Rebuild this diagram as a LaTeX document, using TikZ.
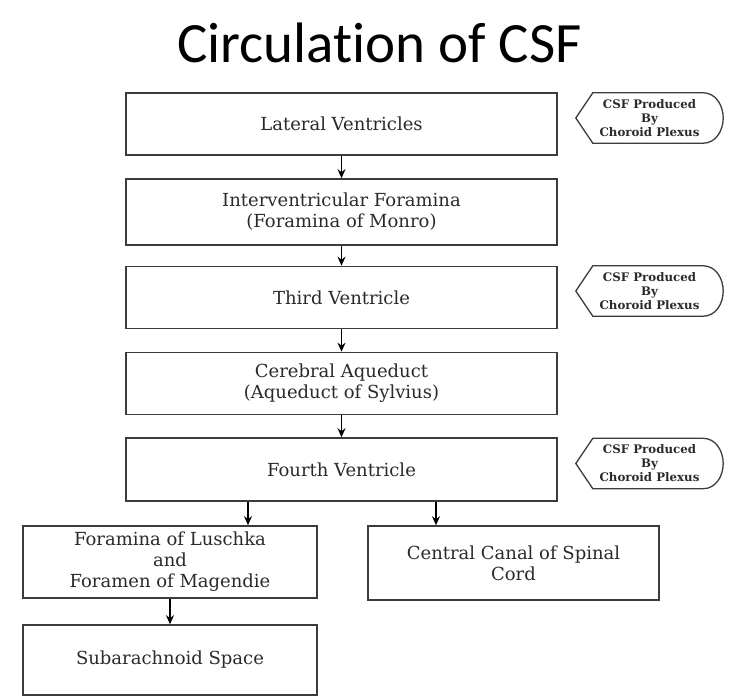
\documentclass[tikz,border=0pt]{standalone}
\usepackage{fontspec}
\setmainfont{DejaVu Serif}
\newfontfamily\titlefont[Ligatures=NoCommon]{Carlito}
\usetikzlibrary{arrows.meta}
\tikzset{>={Stealth[length=9pt,width=8pt]}}
\definecolor{boxline}{HTML}{3C3C3C}
\definecolor{boxtext}{HTML}{2A2A2A}

\begin{document}
\begin{tikzpicture}[x=1pt,y=-1pt,
    stage/.style={draw=boxline, line width=1.6pt, minimum width=431pt, minimum height=62pt,
        align=center, inner sep=0pt, text=boxtext, font=\fontsize{18}{21}\selectfont},
    branch/.style={stage, minimum width=294pt, minimum height=72pt},
    note/.style={minimum width=147pt, minimum height=50pt, inner sep=0pt, align=center,
        text=boxtext, font=\fontsize{11.8}{14}\selectfont\bfseries},
    flow/.style={->, line width=1.3pt, draw=black}]
    \useasboundingbox (0,0) rectangle (742,696);
    \node[anchor=base, font=\titlefont\fontsize{57}{68}\selectfont] (title) at (379.5,62) {Circulation of CSF};
    % main chain
    \node[stage] (lateral) at (341.5,124) {Lateral Ventricles};
    \node[stage, minimum height=66pt] (monro) at (341.5,212) {Interventricular Foramina\\(Foramina of Monro)};
    \node[stage] (third) at (341.5,297.5) {Third Ventricle};
    \node[stage] (sylvius) at (341.5,383.5) {Cerebral Aqueduct\\(Aqueduct of Sylvius)};
    \node[stage, minimum height=63pt] (fourth) at (341.5,469.5) {Fourth Ventricle};
    % outlets
    \node[branch] (luschka) at (170,562) {Foramina of Luschka\\and\\Foramen of Magendie};
    \node[branch, minimum width=291pt, minimum height=74pt] (canal) at (513.5,563) {Central Canal of Spinal\\Cord};
    \node[branch, minimum height=70pt] (subarach) at (170,660) {Subarachnoid Space};
    % choroid plexus notes
    \node[note] (plexusa) at (649.5,118) {CSF Produced\\By\\Choroid Plexus};
    \node[note] (plexusb) at (649.5,291) {CSF Produced\\By\\Choroid Plexus};
    \node[note] (plexusc) at (649.5,463.5) {CSF Produced\\By\\Choroid Plexus};
    \foreach \n in {plexusa,plexusb,plexusc}
        \draw[boxline, line width=1.3pt] (\n.west) -- ([xshift=17pt]\n.north west)
            -- ([xshift=-20pt]\n.north east) to[out=0,in=90] (\n.east)
            to[out=-90,in=0] ([xshift=-20pt]\n.south east) -- ([xshift=17pt]\n.south west) -- cycle;
    % arrows
    \foreach \a/\b in {lateral/monro, monro/third, third/sylvius, sylvius/fourth, luschka/subarach}
        \draw[flow] (\a) -- (\b);
    \coordinate (ltap) at (248,0);
    \coordinate (rtap) at (436,0);
    \draw[flow] (fourth.south -| ltap) -- (luschka.north -| ltap);
    \draw[flow] (fourth.south -| rtap) -- (canal.north -| rtap);
\end{tikzpicture}
\end{document}
